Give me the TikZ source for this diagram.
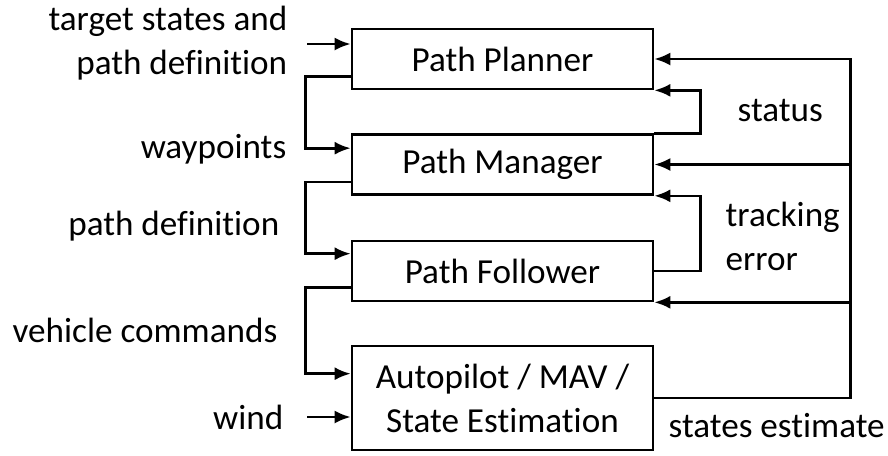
\documentclass[tikz,border=0pt]{standalone}
\usepackage{fontspec}
\setmainfont{Carlito}[Ligatures=NoCommon]
\usetikzlibrary{arrows.meta}
\tikzstyle{block}=[rectangle,draw=black,line width=0.75pt,inner sep=0pt,
  minimum width=3.01cm,minimum height=0.6cm,align=center]
\tikzstyle{lbl}=[inner sep=0pt,align=right]
\tikzstyle{sig}=[-{Latex[length=1.6mm,width=1.3mm]},line width=0.75pt]

\begin{document}
\begin{tikzpicture}[font=\fontsize{10}{12.5}\selectfont]
    \useasboundingbox (0,0) rectangle (8.88,-4.55);
    \node [style=block] (planner) at (5.025,-0.59) {Path Planner};
    \node [style=block] (manager) at (5.025,-1.645) {Path Manager};
    \node [style=block] (follower) at (5.025,-2.71) {Path Follower};
    \node [style=block,minimum height=1.04cm] (autopilot) at (5.025,-3.98) {Autopilot / MAV /\\State Estimation};
    \node [style=lbl,anchor=east] (targetlbl) at (2.88,-0.43) {target states and\\path definition};
    \node [style=lbl,anchor=east] (wplbl) at (2.87,-1.49) {waypoints};
    \node [style=lbl,anchor=east] (pdlbl) at (2.80,-2.26) {path definition};
    \node [style=lbl,anchor=east] (vclbl) at (2.78,-3.30) {vehicle commands};
    \node [style=lbl,anchor=east] (windlbl) at (2.84,-4.17) {wind};
    \node [style=lbl,anchor=west] (statuslbl) at (7.37,-1.11) {status};
    \node [style=lbl,anchor=west,align=left] (trklbl) at (7.25,-2.36) {tracking\\error};
    \node [style=lbl,anchor=west] (selbl) at (6.68,-4.26) {states estimate};
    \coordinate (tsin) at (3.07,-0.44);
    \coordinate (windin) at (3.07,-4.17);
    \draw [style=sig] (tsin) to (tsin -| planner.west);
    \draw [style=sig] (windin) to (windin -| autopilot.west);
    \draw [style=sig] ([yshift=0.14cm]planner.south west) -- ++(-0.45,0) |- ([yshift=-0.15cm]manager.north west);
    \draw [style=sig] ([yshift=0.14cm]manager.south west) -- ++(-0.45,0) |- ([yshift=-0.14cm]follower.north west);
    \draw [style=sig] ([yshift=0.15cm]follower.south west) -- ++(-0.45,0) |- ([yshift=-0.29cm]autopilot.north west);
    \draw [style=sig] (manager.north east) -- ++(0.46,0) |- (planner.south east);
    \draw [style=sig] (follower.east) -- ++(0.46,0) |- (manager.south east);
    \draw [style=sig] (autopilot.east) -- ++(1.96,0) coordinate (fb) |- (planner.east);
    \draw [style=sig] (fb |- manager.east) to (manager.east);
    \draw [style=sig] (fb |- follower.south east) to (follower.south east);
\end{tikzpicture}
\end{document}
